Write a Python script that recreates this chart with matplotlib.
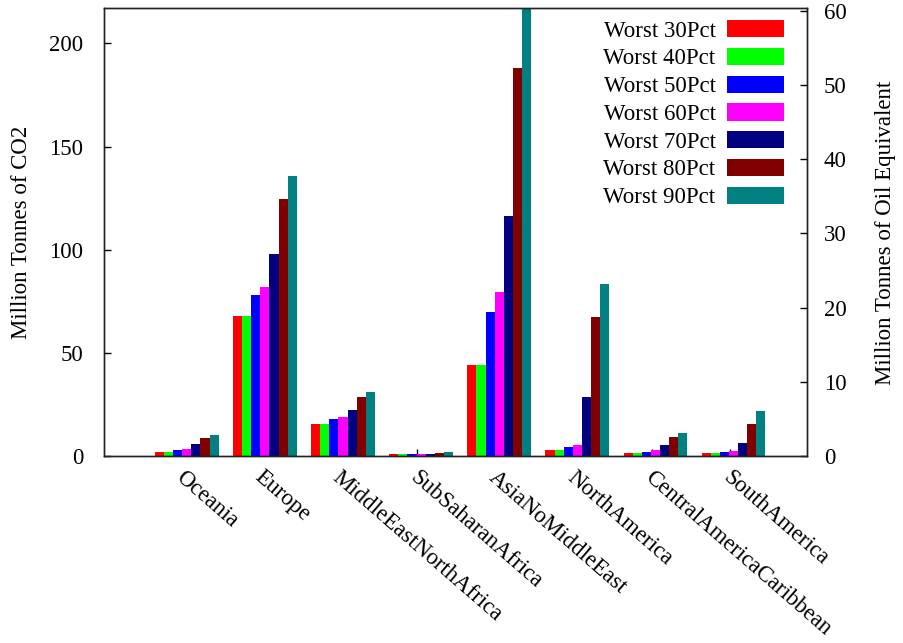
import matplotlib
matplotlib.use("Agg")
import matplotlib.pyplot as plt
import numpy as np

# ---------------------------------------------------------------------------
# Data (left axis = Million Tonnes of CO2)
# ---------------------------------------------------------------------------
regions = ["Oceania", "Europe", "MiddleEastNorthAfrica", "SubSaharanAfrica",
           "AsiaNoMiddleEast", "NorthAmerica", "CentralAmericaCaribbean",
           "SouthAmerica"]

series_names = ["Worst 30Pct", "Worst 40Pct", "Worst 50Pct", "Worst 60Pct",
                "Worst 70Pct", "Worst 80Pct", "Worst 90Pct"]

worst30 = [1.8, 68.1, 15.3, 0.8, 43.9, 3.0, 1.6, 1.6]
worst40 = [1.8, 68.1, 15.3, 0.8, 44.3, 3.0, 1.6, 1.6]
worst50 = [3.1, 77.8, 18.0, 0.8, 69.7, 4.5, 2.0, 2.0]
worst60 = [3.6, 82.1, 19.0, 0.8, 79.4, 5.1, 2.7, 2.2]
worst70 = [5.6, 98.1, 22.5, 1.1, 116.5, 28.5, 5.1, 6.5]
worst80 = [8.8, 124.8, 28.4, 1.6, 188.1, 67.6, 9.3, 15.7]
worst90 = [10.3, 135.5, 30.8, 2.1, 220.0, 83.3, 11.0, 21.9]

colors = ["#ff0000", "#00ff00", "#0000ff", "#ff00ff",
          "#000080", "#800000", "#008080"]

# ---------------------------------------------------------------------------
# Plot
# ---------------------------------------------------------------------------
plt.rcParams["font.family"] = ["Liberation Serif", "DejaVu Serif"]
FS = 16.5

W, H = 904, 643
fig = plt.figure(figsize=(W / 100, H / 100), dpi=100)
ax = fig.add_axes([104 / W, 1 - 456 / H, (807 - 104) / W, (456 - 7.7) / H])

data = [worst30, worst40, worst50, worst60, worst70, worst80, worst90]
x = np.arange(len(regions))
bw = 0.1166
n = len(data)
for j, (vals, c, lab) in enumerate(zip(data, colors, series_names)):
    ax.bar(x + (j - (n - 1) / 2) * bw, vals, width=bw, color=c,
           linewidth=0, label=lab, zorder=1)

ax.set_xlim(-1.06, 7.94)
ax.set_ylim(0, 217.3)
ax.set_axisbelow(True)

ax.set_yticks([0, 50, 100, 150, 200])
ax.tick_params(axis="y", direction="in", length=5, width=1, labelsize=FS,
               pad=15, right=False)
ax.set_xticks(x - 0.05)
ax.set_xticklabels([])
ax.tick_params(axis="x", direction="in", length=5, width=1, top=False)

# rotated category labels, text running down-right from each group
for xi, name in zip(x, regions):
    ax.text(xi - 0.1, -9, name, rotation=-41, rotation_mode="anchor",
            ha="left", va="center", fontsize=FS, clip_on=False)

fig.text(22 / W, 1 - 232 / H, "Million Tonnes of CO2", rotation=90,
         ha="center", va="center", fontsize=FS)
fig.text(886 / W, 1 - 233 / H, "Million Tonnes of Oil Equivalent",
         rotation=90, ha="center", va="center", fontsize=FS)

for sp in ax.spines.values():
    sp.set_linewidth(1.0)
    sp.set_color("#222222")

# Secondary axis: Million Tonnes of Oil Equivalent
ax2 = ax.twinx()
ax2.set_ylim(0, 60.4)
ax2.set_yticks([0, 10, 20, 30, 40, 50, 60])
ax2.tick_params(axis="y", direction="in", length=5, width=1, labelsize=FS,
                pad=12)
for sp in ax2.spines.values():
    sp.set_linewidth(1.0)
    sp.set_color("#222222")

handles, labels = ax.get_legend_handles_labels()
leg = fig.legend(handles, labels, loc="upper right",
                 bbox_to_anchor=(784.3 / W, 1 - 20 / H),
                 frameon=False, fontsize=FS, markerfirst=False,
                 handlelength=2.5, handleheight=0.78, handletextpad=0.5,
                 labelspacing=0.27, borderpad=0, borderaxespad=0)

fig.savefig("out.png", dpi=100)
